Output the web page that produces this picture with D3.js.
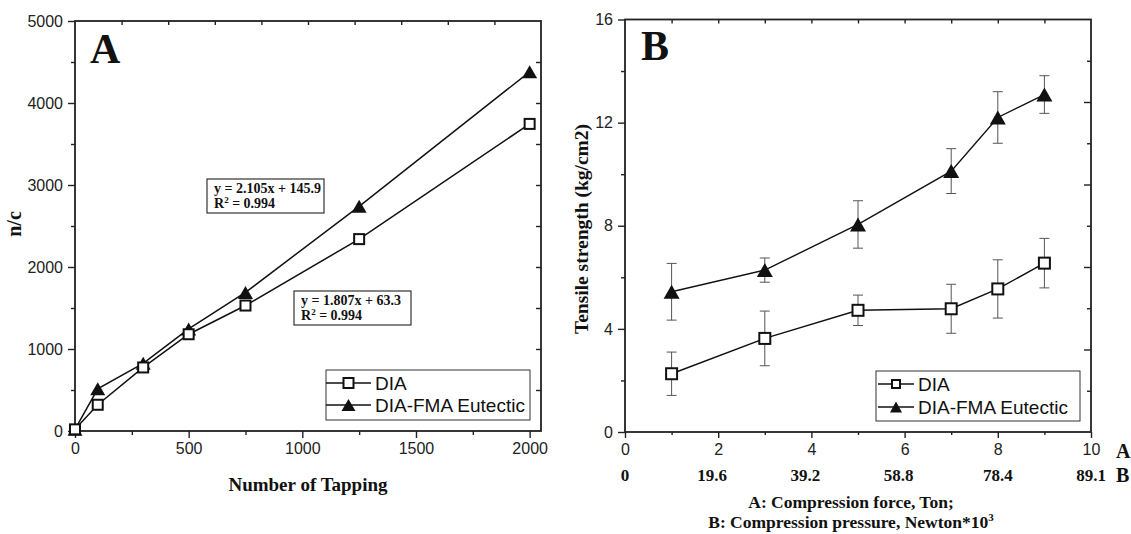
<!DOCTYPE html>
<html>
<head>
<meta charset="utf-8">
<script src="https://cdn.jsdelivr.net/npm/d3@7"></script>
<style>
  body { margin: 0; background: #fff; }
  svg { display: block; }
  .tick text { font-family: "Liberation Sans", Arial, sans-serif; font-size: 16px; fill: #222; }
  .tick line { stroke: #222; stroke-width: 1.4; }
  .serif { font-family: "Liberation Serif", "Times New Roman", serif; font-weight: bold; fill: #111; }
  .sans { font-family: "Liberation Sans", Arial, sans-serif; fill: #111; }
</style>
</head>
<body>
<svg id="chart" width="1131" height="534"></svg>
<script>
// Panel A: n/c vs number of tappings
const tapping = [0, 100, 300, 500, 750, 1250, 2000]
const diaNc = [20, 320, 775, 1180, 1530, 2340, 3745]
const eutecticNc = [20, 515, 825, 1245, 1690, 2740, 4380]
const ticksTapping = [0, 500, 1000, 1500, 2000]
const ticksNc = [0, 1000, 2000, 3000, 4000, 5000]

// Panel B: tensile strength vs compression force
const force = [1, 3, 5, 7, 8, 9]
const diaTs = [2.26, 3.63, 4.72, 4.78, 5.55, 6.55]
const diaErr = [0.84, 1.06, 0.59, 0.95, 1.13, 0.96]
const eutecticTs = [5.44, 6.28, 8.05, 10.12, 12.2, 13.09]
const eutecticErr = [1.1, 0.47, 0.92, 0.87, 1.0, 0.73]
const ticksForce = [0, 2, 4, 6, 8, 10]
const ticksPressure = ["0", "19.6", "39.2", "58.8", "78.4", "89.1"]
const ticksTs = [0, 4, 8, 12, 16]

const seriesNames = ["DIA", "DIA-FMA Eutectic"]

const svg = d3.select("#chart")
const ink = "#111"

function triPath(w, h) {
  return `M0,${-h / 2}L${w / 2},${h / 2}L${-w / 2},${h / 2}Z`
}

function tickSet(g, axisFn, scale, values, size) {
  g.call(axisFn(scale).tickValues(values).tickSize(size).tickFormat(""))
  g.select(".domain").remove()
}

function frame(g, x, y) {
  g.append("rect")
    .attr("x", x.range()[0])
    .attr("y", y.range()[1])
    .attr("width", x.range()[1] - x.range()[0])
    .attr("height", y.range()[0] - y.range()[1])
    .attr("fill", "none")
    .attr("stroke", "#222")
    .attr("stroke-width", 1.8)
}

function squares(g, pts, side) {
  g.selectAll(null)
    .data(pts)
    .enter()
    .append("rect")
    .attr("x", d => d[0] - side / 2)
    .attr("y", d => d[1] - side / 2)
    .attr("width", side)
    .attr("height", side)
    .attr("fill", "#fff")
    .attr("stroke", ink)
    .attr("stroke-width", 2)
}

function triangles(g, pts, w, h) {
  g.selectAll(null)
    .data(pts)
    .enter()
    .append("path")
    .attr("d", triPath(w, h))
    .attr("transform", d => `translate(${d[0]},${d[1]})`)
    .attr("fill", ink)
}

function legend(g, x0, y0, w, h, rowY, lineX, sq, tri, fontSize) {
  g.append("rect")
    .attr("x", x0).attr("y", y0).attr("width", w).attr("height", h)
    .attr("fill", "#fff").attr("stroke", "#333").attr("stroke-width", 1)
  seriesNames.forEach((name, i) => {
    const y = y0 + rowY[i]
    g.append("line")
      .attr("x1", x0 + lineX[0]).attr("x2", x0 + lineX[1])
      .attr("y1", y).attr("y2", y)
      .attr("stroke", ink).attr("stroke-width", 1.4)
    const cx = x0 + (lineX[0] + lineX[1]) / 2
    if (i === 0) squares(g, [[cx, y]], sq)
    else triangles(g, [[cx, y]], tri[0], tri[1])
    g.append("text")
      .attr("class", "sans")
      .attr("x", x0 + lineX[1] + 4)
      .attr("y", y)
      .attr("dy", "0.36em")
      .attr("font-size", fontSize)
      .text(name)
  })
}

// ---------- Panel A ----------
{
  const x = d3.scaleLinear().domain([0, 2050]).range([75, 541])
  const y = d3.scaleLinear().domain([0, 5000]).range([431, 21])
  const g = svg.append("g")

  // ticks
  const bottom = g.append("g").attr("transform", `translate(0,${y.range()[0]})`)
  bottom.call(d3.axisBottom(x).tickValues(ticksTapping).tickSize(7).tickPadding(5).tickFormat(d3.format("d")))
  bottom.select(".domain").remove()
  tickSet(g.append("g").attr("transform", `translate(0,${y.range()[0]})`),
    d3.axisBottom, x, ticksTapping.slice(0, -1).map(v => v + 250), 4)
  const left = g.append("g").attr("transform", `translate(${x.range()[0]},0)`)
  left.call(d3.axisLeft(y).tickValues(ticksNc).tickSize(7).tickPadding(5).tickFormat(d3.format("d")))
  left.select(".domain").remove()
  tickSet(g.append("g").attr("transform", `translate(${x.range()[0]},0)`),
    d3.axisLeft, y, ticksNc.slice(0, -1).map(v => v + 500), 4)
  tickSet(g.append("g").attr("transform", `translate(0,${y.range()[1]})`),
    d3.axisBottom, x, d3.range(1, 10).map(k => k * 205), 4)
  tickSet(g.append("g").attr("transform", `translate(${x.range()[1]},0)`),
    d3.axisLeft, y, d3.range(1, 10).map(k => k * 500), 5)

  frame(g, x, y)

  const line = d3.line().x(d => x(d[0])).y(d => y(d[1]))
  const dia = tapping.map((t, i) => [t, diaNc[i]])
  const eut = tapping.map((t, i) => [t, eutecticNc[i]])
  g.append("path").attr("d", line(dia)).attr("fill", "none").attr("stroke", ink).attr("stroke-width", 1.5)
  g.append("path").attr("d", line(eut)).attr("fill", "none").attr("stroke", ink).attr("stroke-width", 1.5)
  triangles(g, eut.map(d => [x(d[0]), y(d[1])]), 15, 13)
  squares(g, dia.map(d => [x(d[0]), y(d[1])]), 10)

  // regression boxes
  const eqs = [
    {x: 207, y: 179, w: 117, lines: ["y = 2.105x + 145.9", "R", " = 0.994"]},
    {x: 294, y: 291, w: 117, lines: ["y = 1.807x + 63.3", "R", " = 0.994"]}
  ]
  eqs.forEach(e => {
    g.append("rect").attr("x", e.x).attr("y", e.y).attr("width", e.w).attr("height", 34)
      .attr("fill", "#fff").attr("stroke", "#333").attr("stroke-width", 1.2)
    g.append("text").attr("class", "serif").attr("font-size", 14)
      .attr("x", e.x + 7).attr("y", e.y + 14).text(e.lines[0])
    const t = g.append("text").attr("class", "serif").attr("font-size", 14)
      .attr("x", e.x + 7).attr("y", e.y + 29)
    t.append("tspan").text(e.lines[1])
    t.append("tspan").attr("font-size", 9).attr("dy", -5).text("2")
    t.append("tspan").attr("dy", 5).text(e.lines[2])
  })

  legend(g, 326, 370, 204, 50, [13, 35], [0, 45], 10, [14, 12], 19)

  g.append("text").attr("class", "serif").attr("font-size", 42).attr("x", 90).attr("y", 63).text("A")
  g.append("text").attr("class", "serif").attr("font-size", 19)
    .attr("text-anchor", "middle").attr("x", 308).attr("y", 491).text("Number of Tapping")
  g.append("text").attr("class", "serif").attr("font-size", 20)
    .attr("text-anchor", "middle")
    .attr("transform", "translate(21,224) rotate(-90)").text("n/c")
}

// ---------- Panel B ----------
{
  const x = d3.scaleLinear().domain([0, 10]).range([625, 1091])
  const y = d3.scaleLinear().domain([0, 16]).range([432, 19.5])
  const g = svg.append("g")

  const bottom = g.append("g").attr("transform", `translate(0,${y.range()[0]})`)
  bottom.call(d3.axisBottom(x).tickValues(ticksForce).tickSize(6).tickPadding(6))
  bottom.select(".domain").remove()
  tickSet(g.append("g").attr("transform", `translate(0,${y.range()[0]})`),
    d3.axisBottom, x, [1, 3, 5, 7, 9], 3)
  const left = g.append("g").attr("transform", `translate(${x.range()[0]},0)`)
  left.call(d3.axisLeft(y).tickValues(ticksTs).tickSize(7).tickPadding(5))
  left.select(".domain").remove()
  tickSet(g.append("g").attr("transform", `translate(${x.range()[0]},0)`),
    d3.axisLeft, y, [2, 6, 10, 14], 4)
  tickSet(g.append("g").attr("transform", `translate(0,${y.range()[1]})`),
    d3.axisBottom, x, d3.range(1, 10), 4)
  tickSet(g.append("g").attr("transform", `translate(${x.range()[1]},0)`),
    d3.axisLeft, y, d3.range(1, 10).filter(k => k % 2 === 0).map(k => k * 1.6), 7)
  tickSet(g.append("g").attr("transform", `translate(${x.range()[1]},0)`),
    d3.axisLeft, y, d3.range(1, 10).filter(k => k % 2 === 1).map(k => k * 1.6), 4)

  frame(g, x, y)

  // secondary row of labels (pressure)
  g.selectAll(null)
    .data(ticksPressure)
    .enter()
    .append("text")
    .attr("class", "serif")
    .attr("font-size", 17)
    .attr("text-anchor", "middle")
    .attr("x", (d, i) => x(ticksForce[i]) - (i > 0 && i < 4 ? 6 : 0))
    .attr("y", 481)
    .text(d => d)
  g.append("text").attr("class", "serif").attr("font-size", 20).attr("x", 1116).attr("y", 458).text("A")
  g.append("text").attr("class", "serif").attr("font-size", 20).attr("x", 1116).attr("y", 482).text("B")

  // error bars
  const bars = [
    force.map((f, i) => [f, diaTs[i], diaErr[i]]),
    force.map((f, i) => [f, eutecticTs[i], eutecticErr[i]])
  ]
  bars.forEach(set => {
    set.forEach(d => {
      const cx = x(d[0]), y1 = y(d[1] + d[2]), y2 = y(d[1] - d[2])
      g.append("line").attr("x1", cx).attr("x2", cx).attr("y1", y1).attr("y2", y2)
        .attr("stroke", "#555").attr("stroke-width", 1)
      ;[y1, y2].forEach(yy => g.append("line")
        .attr("x1", cx - 5).attr("x2", cx + 5).attr("y1", yy).attr("y2", yy)
        .attr("stroke", "#555").attr("stroke-width", 1))
    })
  })

  const line = d3.line().x(d => x(d[0])).y(d => y(d[1]))
  g.append("path").attr("d", line(bars[0])).attr("fill", "none").attr("stroke", ink).attr("stroke-width", 1.4)
  g.append("path").attr("d", line(bars[1])).attr("fill", "none").attr("stroke", ink).attr("stroke-width", 1.4)
  triangles(g, bars[1].map(d => [x(d[0]), y(d[1])]), 16, 14)
  squares(g, bars[0].map(d => [x(d[0]), y(d[1])]), 11)

  legend(g, 876, 371, 204, 50, [13, 36], [2, 38], 8, [12, 11], 19)

  g.append("text").attr("class", "serif").attr("font-size", 42).attr("x", 641).attr("y", 60).text("B")
  g.append("text").attr("class", "serif").attr("font-size", 19.5)
    .attr("text-anchor", "middle")
    .attr("transform", "translate(588,229) rotate(-90)").text("Tensile strength (kg/cm2)")

  g.append("text").attr("class", "serif").attr("font-size", 17.5)
    .attr("text-anchor", "middle").attr("x", 851).attr("y", 508).text("A: Compression force, Ton;")
  const t = g.append("text").attr("class", "serif").attr("font-size", 17.5)
    .attr("text-anchor", "middle").attr("x", 851).attr("y", 528)
  t.append("tspan").text("B: Compression pressure, Newton*10")
  t.append("tspan").attr("font-size", 11).attr("dy", -7).text("3")
}
</script>
</body>
</html>
